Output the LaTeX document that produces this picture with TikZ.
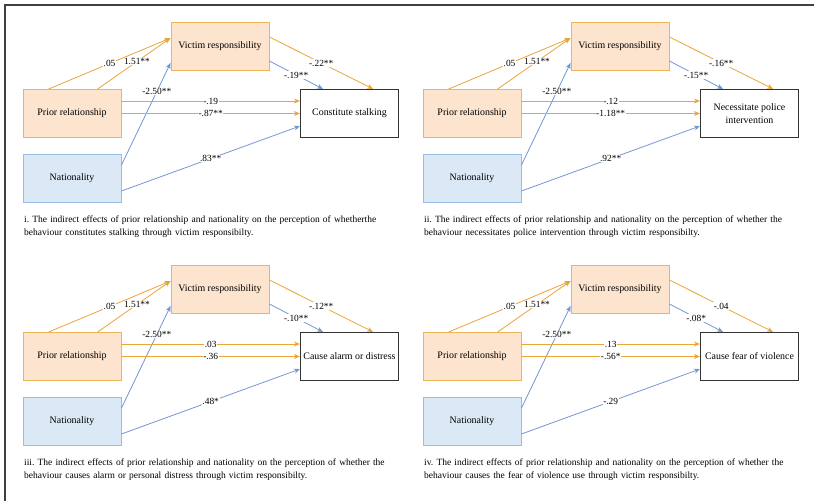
\documentclass[tikz,border=0pt]{standalone}
\usepackage{fontspec}
\setmainfont{Liberation Serif}
\usetikzlibrary{arrows.meta}
\frenchspacing

\definecolor{arrorange}{HTML}{E8A53A}
\definecolor{boxorange}{HTML}{F0B458}
\definecolor{orfill}{HTML}{FCE4CF}
\definecolor{arrblue}{HTML}{7196D3}
\definecolor{boxblue}{HTML}{9CBBE5}
\definecolor{blfill}{HTML}{DBE8F6}

\tikzset{
  box/.style={draw, line width=0.9pt, minimum width=98pt, minimum height=48pt,
    inner sep=2pt, align=center, font=\fontsize{9.9}{12.5}\selectfont},
  orbox/.style={box, draw=boxorange, fill=orfill},
  blbox/.style={box, draw=boxblue, fill=blfill},
  outbox/.style={box, draw=black!80, line width=1.1pt, fill=white},
  orarrow/.style={draw=arrorange, line width=0.8pt, -{Stealth[length=6pt,width=5pt]}},
  blarrow/.style={draw=arrblue, line width=0.8pt, -{Stealth[length=6pt,width=5pt]}},
  coef/.style={fill=white, inner sep=0.6pt, font=\fontsize{9.4}{11}\selectfont},
  caption/.style={anchor=north west, inner sep=0pt, text width=400pt, align=left,
    font=\fontsize{9.5}{12.8}\selectfont}
}

% #1 suffix, #2 outcome, #3 #4 via victim resp., #5 #6 direct, #7 nationality, #8 caption
\newcommand{\mediation}[8]{%
  \node[orbox] (vr#1) at (220,46.5) {Victim responsibility};
  \node[orbox] (pr#1) at (72,113.5) {Prior relationship};
  \node[blbox] (na#1) at (72,178.5) {Nationality};
  \node[outbox] (out#1) at (349.5,113.5) {#2};
  \draw[orarrow] ([xshift=26pt]pr#1.north west) -- ([yshift=8.5pt]vr#1.west) node[coef,midway] {.05};
  \draw[orarrow] ([xshift=75pt]pr#1.north west) -- ([yshift=8.5pt]vr#1.west) node[coef,pos=0.54] {1.51**};
  \draw[blarrow] ([yshift=-11pt]na#1.north east) -- ([yshift=8pt]vr#1.south west) node[coef,pos=0.72] {-2.50**};
  \draw[orarrow] ([yshift=9.5pt]vr#1.east) -- ([xshift=-26pt]out#1.north east) node[coef,midway] {#3};
  \draw[blarrow] ([yshift=-14.5pt]vr#1.east) -- ([xshift=23pt]out#1.north west) node[coef,midway] {#4};
  \draw[orarrow] ([yshift=12.5pt]pr#1.east) -- ([yshift=12.5pt]out#1.west) node[coef,midway] {#5};
  \draw[orarrow] (pr#1.east) -- (out#1.west) node[coef,midway] {#6};
  \draw[blarrow] ([yshift=-12.5pt]na#1.east) -- ([yshift=12pt]out#1.south west) node[coef,midway] {#7};
  \node[caption] (cap#1) at (24,216) {#8};
}

\begin{document}
\begin{tikzpicture}[x=1pt,y=-1pt]
  \useasboundingbox (0,0) rectangle (814,501);
  \draw[line width=1.3pt, black!75] (5,501) -- (5,5) -- (814,5);

  \mediation{a}{Constitute stalking}{-.22**}{-.19**}{-.19}{-.87**}{.83**}
    {i. The indirect effects of prior relationship and nationality on the perception of whetherthe\\
     behaviour constitutes stalking through victim responsibilty.}

  \begin{scope}[shift={(400,0)}]
    \mediation{b}{Necessitate police\\intervention}{-.16**}{-.15**}{-.12}{-1.18**}{.92**}
      {ii. The indirect effects of prior relationship and nationality on the perception of whether the\\
       behaviour necessitates police intervention through victim responsibilty.}
  \end{scope}

  \begin{scope}[shift={(0,243)}]
    \mediation{c}{Cause alarm or distress}{-.12**}{-.10**}{.03}{-.36}{.48*}
      {iii. The indirect effects of prior relationship and nationality on the perception of whether the\\
       behaviour causes alarm or personal distress through victim responsibilty.}
  \end{scope}

  \begin{scope}[shift={(400,243)}]
    \mediation{d}{Cause fear of violence}{-.04}{-.08*}{.13}{-.56*}{-.29}
      {iv. The indirect effects of prior relationship and nationality on the perception of whether the\\
       behaviour causes the fear of violence use through victim responsibilty.}
  \end{scope}
\end{tikzpicture}
\end{document}
